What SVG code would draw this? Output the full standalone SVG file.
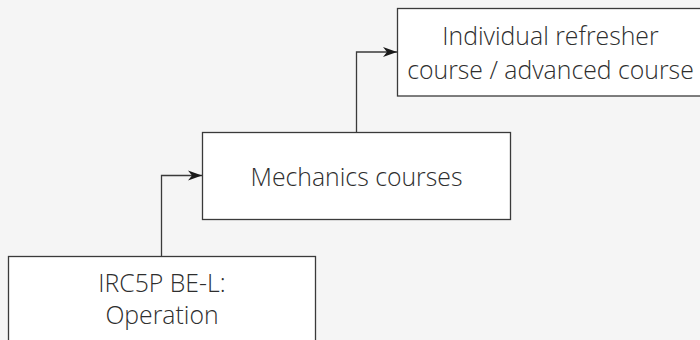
<svg xmlns="http://www.w3.org/2000/svg" width="700" height="340" viewBox="0 0 700 340">
<defs>
<style>
.box{fill:#ffffff;stroke:#3a3a3a;stroke-width:1.3}
.lbl{font-family:"Open Sans","Noto Sans","Liberation Sans",sans-serif;font-size:24.8px;font-weight:300;fill:#2e2e2e;text-anchor:middle}
.conn{fill:none;stroke:#3a3a3a;stroke-width:1.3}
</style>
<marker id="arr" markerWidth="15" markerHeight="11" refX="14" refY="5.5" orient="auto" markerUnits="userSpaceOnUse">
<path d="M0,0.5 L14,5.5 L0,10.5 L4,5.5 Z" fill="#1a1a1a"/>
</marker>
</defs>
<rect width="700" height="340" fill="#f5f5f5"/>
<g id="connectors">
<path class="conn" d="M161.5,256 V175.5 H202" marker-end="url(#arr)"/>
<path class="conn" d="M356.5,132.5 V52 H397" marker-end="url(#arr)"/>
</g>
<g id="node-refresher">
<rect class="box" x="397.5" y="8.5" width="308" height="87.5"/>
<text class="lbl" x="550.5" y="45">Individual refresher</text>
<text class="lbl" x="550.5" y="79">course / advanced course</text>
</g>
<g id="node-mechanics">
<rect class="box" x="202.5" y="132.5" width="308" height="87"/>
<text class="lbl" x="356.5" y="186">Mechanics courses</text>
</g>
<g id="node-operation">
<rect class="box" x="8.5" y="256.5" width="307" height="90"/>
<text class="lbl" x="162" y="292">IRC5P BE-L:</text>
<text class="lbl" x="162" y="324">Operation</text>
</g>
</svg>
